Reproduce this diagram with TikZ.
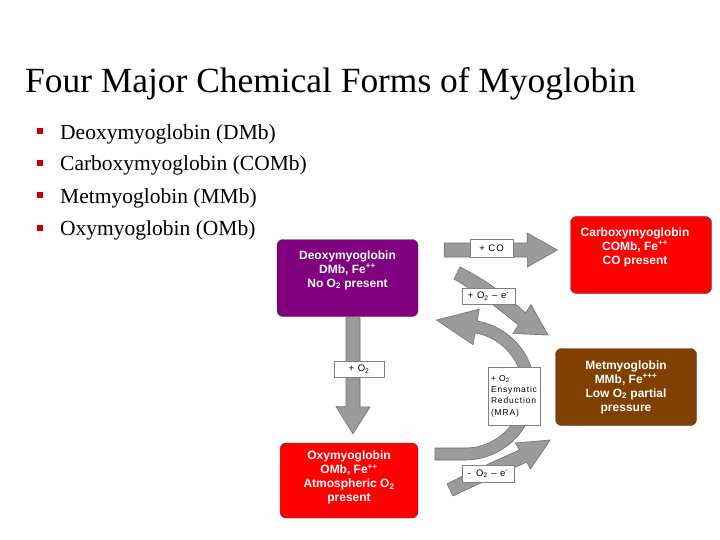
\documentclass[tikz,border=0pt]{standalone}
\usepackage{fontspec}
\setmainfont{Liberation Serif}
\newfontfamily\boxfont{Liberation Sans}
\newfontfamily\lblfont[LetterSpace=10]{Liberation Sans}
\usepackage{tikz}
\usetikzlibrary{positioning}
\usetikzlibrary{calc}
\definecolor{dmbpurple}{RGB}{128,0,128}
\definecolor{mbred}{RGB}{255,0,0}
\definecolor{mmbbrown}{RGB}{128,64,0}
\definecolor{bulletred}{RGB}{192,0,0}
\definecolor{arrowgray}{RGB}{155,155,155}
\definecolor{arrowedge}{RGB}{110,110,110}

\begin{document}
\begin{tikzpicture}[x=1pt,y=-1pt,
  formbox/.style={draw=black!75,rounded corners=6pt,minimum width=141pt,minimum height=77pt},
  formtext/.style={text=white,align=center,font=\boxfont\bfseries\fontsize{12}{14}\selectfont},
  lblbox/.style={draw=gray,fill=white,inner sep=1pt,font=\lblfont\fontsize{9.5}{11.3}\selectfont},
  blockarrow/.style={fill=arrowgray,draw=arrowedge,line width=0.6pt,line join=miter},
  bulletsq/.style={fill=bulletred,inner sep=0pt,minimum size=6pt},
  bullettext/.style={anchor=base west,inner sep=0pt,font=\fontsize{21.5}{24}\selectfont}]
  \useasboundingbox (0,0) rectangle (720,540);
  \fill[white] (0,0) rectangle (720,540);
  % Title and list
  \node[anchor=base west,inner sep=0pt] (title) at (25,93) {\fontsize{35.4}{40}\selectfont Four Major Chemical Forms of Myoglobin};
  \node[bulletsq] (b1) at (40,131) {};
  \node[bullettext] (t1) at (60,140) {Deoxymyoglobin (DMb)};
  \node[bulletsq] (b2) at (40,163) {};
  \node[bullettext] (t2) at (60,171) {Carboxymyoglobin (COMb)};
  \node[bulletsq] (b3) at (40,195) {};
  \node[bullettext] (t3) at (60,204) {Metmyoglobin (MMb)};
  \node[bulletsq] (b4) at (40,228) {};
  \node[bullettext] (t4) at (60,236) {Oxymyoglobin (OMb)};
  % Forms
  \node[formbox,fill=dmbpurple] (dmb) at (347.5,278) {};
  \node[formtext] (dmbtxt) at ($(dmb.center)+(0,-8)$) {Deoxymyoglobin\\DMb, Fe\textsuperscript{++}\\No O\textsubscript{2} present};
  \node[formbox,fill=mbred] (comb) at (641,255) {};
  \node[formtext] (combtxt) at ($(comb.center)+(-6,-8)$) {Carboxymyoglobin\\COMb, Fe\textsuperscript{++}\\CO present};
  \node[formbox,fill=mmbbrown] (mmb) at (626,387) {};
  \node[formtext] (mmbtxt) at (mmb.center) {Metmyoglobin\\MMb, Fe\textsuperscript{+++}\\Low O\textsubscript{2} partial\\pressure};
  \node[formbox,fill=mbred,minimum width=138pt,minimum height=75pt] (omb) at (349,480.5) {};
  \node[formtext] (ombtxt) at ($(omb.center)+(0,-3)$) {Oxymyoglobin\\OMb, Fe\textsuperscript{++}\\Atmospheric O\textsubscript{2}\\present};
  % DMb -> COMb
  \coordinate (cotail) at ($(dmb.east)+(26,-28)$);
  \coordinate (cotip) at ($(comb.west)+(-13,-5)$);
  \draw[blockarrow] (cotail) ++(0,-7) -- ++(83,0) -- ++(0,-10) -- (cotip) -- ++(-30,17) -- ++(0,-10) -- ++(-83,0) -- cycle;
  % DMb -> OMb
  \coordinate (o2tail) at ($(dmb.south)+(5.5,1)$);
  \coordinate (o2tip) at ($(omb.north)+(4,-9)$);
  \draw[blockarrow] (o2tail) ++(-7,0) -- ++(0,89) -- ++(-10,0) -- (o2tip) -- ++(17,-27) -- ++(-10,0) -- ++(0,-89) -- cycle;
  % to MMb, + O2 - e
  \coordinate (oxtip) at (548,335);
  \draw[blockarrow] (460,267) .. controls (488,281) and (508,297) .. (525.6,313) -- (531,304.5) -- (oxtip) -- (513,333.5) -- (518.4,325) .. controls (500,310) and (480,294) .. (454,279) -- cycle;
  % MMb back, enzymatic reduction
  \coordinate (mratip) at (436.5,320);
  \draw[blockarrow] (mratip) -- (479.2,309.2) -- (477.2,321.1)
    -- plot[domain=80:-90,samples=50] ({465+70*cos(\x)},{390-70*sin(\x)})
    -- (435,460) -- (435,448)
    -- plot[domain=-90:80,samples=50] ({465+58*cos(\x)},{390-58*sin(\x)})
    -- (473,344.7) -- cycle;
  % OMb -> MMb, - O2 - e
  \coordinate (redtip) at (550,440);
  \draw[blockarrow] (447,484) .. controls (470,472) and (495,461) .. (519.4,450) -- (515.4,443) -- (redtip) -- (530.6,469) -- (526.6,462) .. controls (501,474) and (476,485) .. (453,496) -- cycle;
  % labels
  \node[lblbox,minimum width=43pt,minimum height=18pt] (colbl) at (491.5,248) {+ CO};
  \node[lblbox,minimum width=50pt,minimum height=16pt] (o2lbl) at (359,369) {+ O\textsubscript{2}};
  \node[lblbox,minimum width=53pt,minimum height=16pt] (oxlbl) at (488.5,296) {+ O\textsubscript{2} \textendash{} e\textsuperscript{-}};
  \node[lblbox,minimum width=52pt,minimum height=58pt,align=left,font=\lblfont\fontsize{8.5}{11.3}\selectfont] (mralbl) at (514,396) {+ O\textsubscript{2}\\Ensymatic\\Reduction\\(MRA)};
  \node[lblbox,minimum width=52pt,minimum height=17pt] (redlbl) at (488,473.5) {- \,O\textsubscript{2} \textendash{} e\textsuperscript{-}};
\end{tikzpicture}
\end{document}
